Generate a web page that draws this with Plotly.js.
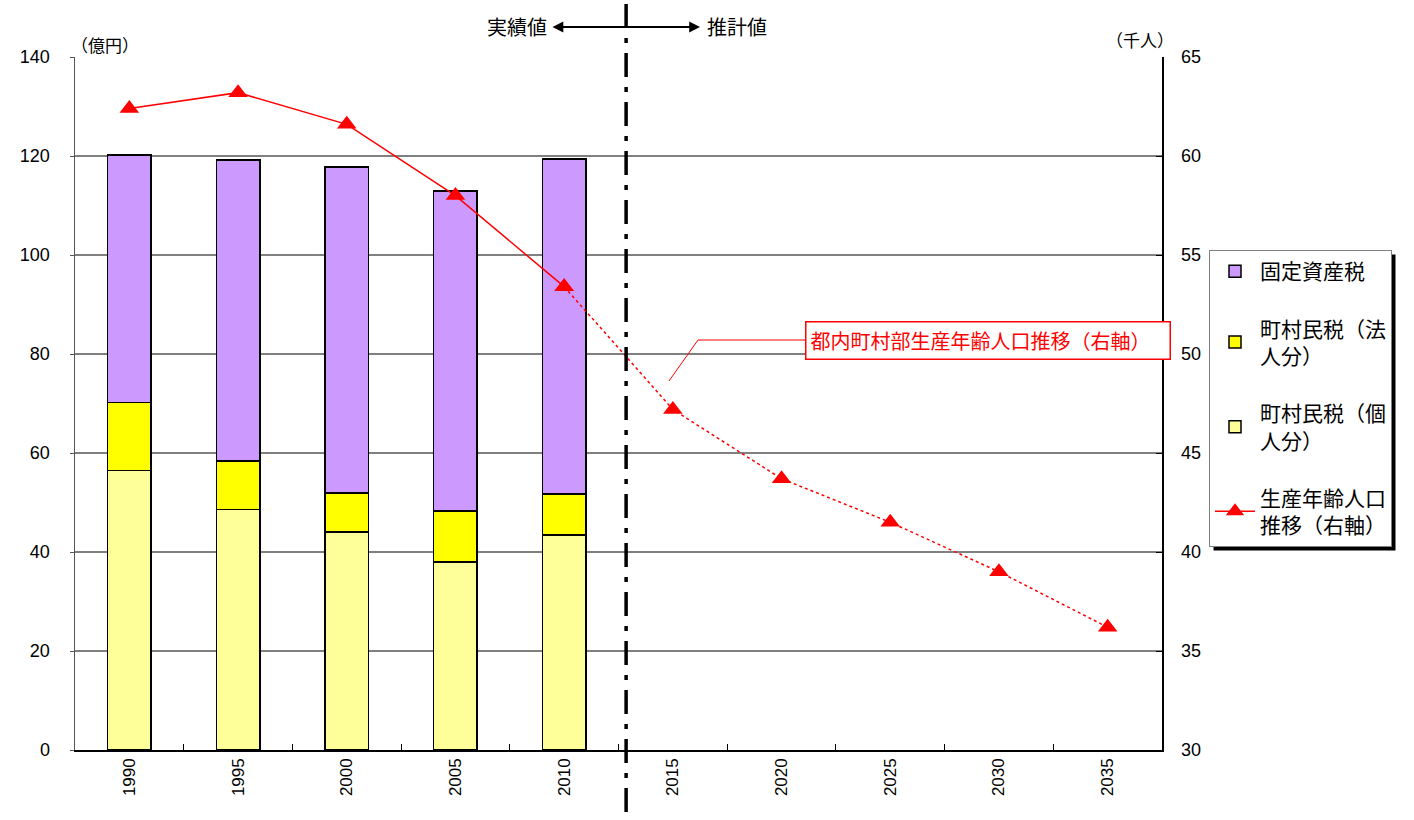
<!DOCTYPE html>
<html>
<head>
<meta charset="utf-8">
<script src="https://cdn.plot.ly/plotly-3.0.1.min.js"></script>
<style>
html,body{margin:0;padding:0;background:#fff;}
#chart{width:1414px;height:820px;}
</style>
</head>
<body>
<div id="chart"></div>
<script>
// ---- data ----
const years = ['1990','1995','2000','2005','2010','2015','2020','2025','2030','2035'];
const actualYears = ['1990','1995','2000','2005','2010'];
const kojin = [56.5, 48.6, 44.0, 38.0, 43.4];      // 町村民税（個人分）
const hojin = [13.7, 9.8, 7.9, 10.3, 8.3];         // 町村民税（法人分）
const kotei = [50.0, 60.8, 65.9, 64.6, 67.7];      // 固定資産税
const popYearsActual = ['1990','1995','2000','2005','2010'];
const popActual = [62.4, 63.2, 61.6, 58.0, 53.4];  // 生産年齢人口（実績）
const popYearsEst = ['2010','2015','2020','2025','2030','2035'];
const popEst = [53.4, 47.2, 43.7, 41.5, 39.0, 36.2]; // 生産年齢人口（推計）
const leftTicks = [0,20,40,60,80,100,120,140];
const rightTicks = [30,35,40,45,50,55,60,65];

// ---- layout helpers (pixel -> paper) ----
const W = 1414, H = 820;
const L = 75, R = 1162, T = 57, B = 750;
const px = x => (x - L) / (R - L);
const py = y => (B - y) / (B - T);

const FONT = '"Liberation Sans", Arial, "Noto Sans CJK JP", sans-serif';
const JFONT = '"Noto Sans CJK JP", "Liberation Sans", sans-serif';

const barLine = {color: '#000', width: 1.5};
const tri = {symbol:'triangle-up', size:17, color:'#FF0000'};
const traces = [
  {type:'bar', name:'町村民税（個<br>人分）', x: actualYears, y: kojin,
   marker:{color:'#FFFF99', line: barLine}, width:0.4, legendrank:3, legendgroup:'c', hoverinfo:'y'},
  {type:'bar', name:'町村民税（法<br>人分）', x: actualYears, y: hojin,
   marker:{color:'#FFFF00', line: barLine}, width:0.4, legendrank:2, legendgroup:'b', hoverinfo:'y'},
  {type:'bar', name:'固定資産税', x: actualYears, y: kotei,
   marker:{color:'#CC99FF', line: barLine}, width:0.4, legendrank:1, legendgroup:'a', hoverinfo:'y'},
  {type:'scatter', mode:'lines+markers', name:'生産年齢人口<br>推移（右軸）', x: popYearsActual, y: popActual,
   yaxis:'y2', line:{color:'#FF0000', width:1.5}, marker: tri, legendrank:4, legendgroup:'d'},
  {type:'scatter', mode:'lines+markers', name:'推計', x: popYearsEst, y: popEst,
   yaxis:'y2', line:{color:'#FF0000', width:1.5, dash:'dot'}, marker: tri, showlegend:false}
];

const layout = {
  width: W, height: H,
  margin: {l: L, r: W - R, t: T, b: H - B},
  paper_bgcolor: '#fff', plot_bgcolor: '#fff',
  barmode: 'stack',
  font: {family: JFONT, size: 16, color: '#000'},
  showlegend: true,
  legend: {
    x: px(1209), y: py(250), xanchor: 'left', yanchor: 'top',
    bgcolor: '#fff', bordercolor: '#808080', borderwidth: 1,
    font: {family: JFONT, size: 21, color: '#000'},
    traceorder: 'grouped', tracegroupgap: 27,
    itemwidth: 40
  },
  xaxis: {
    type: 'category', categoryorder: 'array', categoryarray: years,
    range: [-0.5, 9.5],
    tickangle: -90, tickfont: {family: FONT, size: 17},
    ticks: 'inside', ticklen: 6, tickcolor: '#000', tickson: 'boundaries',
    showline: true, linecolor: '#000', linewidth: 1.5,
    showgrid: false, zeroline: false, fixedrange: true
  },
  yaxis: {
    range: [0, 140], tickvals: leftTicks,
    tickfont: {family: FONT, size: 18},
    ticks: 'outside', ticklen: 4, tickcolor: '#555',
    showline: true, linecolor: '#555', linewidth: 1.5,
    showgrid: true, gridcolor: '#808080', gridwidth: 1.2,
    zeroline: false, fixedrange: true, ticklabelstandoff: 16
  },
  yaxis2: {
    overlaying: 'y', side: 'right',
    range: [30, 65], tickvals: rightTicks,
    tickfont: {family: FONT, size: 18},
    ticks: 'inside', ticklen: 6, tickcolor: '#000',
    showline: true, linecolor: '#000', linewidth: 1.5,
    showgrid: false, zeroline: false, fixedrange: true, ticklabelstandoff: 14
  },
  shapes: [
    // divider between actual and estimate
    {type:'line', xref:'x', yref:'paper', x0: 4.57, x1: 4.57, y0: py(812), y1: py(0),
     line:{color:'#000', width:3.5, dash:'24px,10px,5px,10px'}, layer:'above'},
    // callout leader
    {type:'path', xref:'paper', yref:'paper',
     path: `M ${px(806)} ${py(340)} L ${px(698)} ${py(340)} L ${px(669)} ${py(381)}`,
     line:{color:'#FF0000', width:1}}
  ],
  annotations: [
    {xref:'paper', yref:'paper', x: px(105), y: py(44), xanchor:'center', yanchor:'middle', text:'（億円）', showarrow:false,
     font:{family: JFONT, size:17}},
    {xref:'paper', yref:'paper', x: px(1140), y: py(40), xanchor:'center', yanchor:'middle', text:'（千人）', showarrow:false,
     font:{family: JFONT, size:17}},
    {xref:'paper', yref:'paper', x: px(549), y: py(27), xanchor:'right', yanchor:'middle', text:'実績値', showarrow:false,
     font:{family: JFONT, size:20}},
    {xref:'paper', yref:'paper', x: px(705), y: py(27), xanchor:'left', yanchor:'middle', text:'推計値', showarrow:false,
     font:{family: JFONT, size:20}},
    {xref:'paper', yref:'paper', x: px(700), y: py(27), ax: -149, ay: 0, axref:'pixel', ayref:'pixel',
     text:'', showarrow:true, arrowhead:2, arrowside:'end+start', arrowsize:1.2, arrowwidth:1.8, arrowcolor:'#000'},
    {xref:'paper', yref:'paper', x: px(988), y: py(340), xanchor:'center', yanchor:'middle',
     text:'都内町村部生産年齢人口推移（右軸）', showarrow:false,
     font:{family: JFONT, size:20, color:'#FF0000'}, bordercolor:'#FF0000', borderwidth:1.5, borderpad:4, bgcolor:'#fff',
     width: 355, height: 28, align:'left'}
  ]
};

Plotly.newPlot('chart', traces, layout, {displayModeBar:false, staticPlot:true}).then(gd => {
  // legend drop shadow, sized from the drawn legend box
  const bg = gd.querySelector('.legend .bg');
  if (!bg) return;
  const r = bg.getBoundingClientRect();
  const g = gd.getBoundingClientRect();
  const x0 = r.left - g.left + 4, x1 = r.right - g.left + 4;
  const y0 = r.top - g.top + 4, y1 = r.bottom - g.top + 4;
  const shapes = gd.layout.shapes.slice();
  shapes.unshift({type:'rect', xref:'paper', yref:'paper', x0: px(x0), x1: px(x1), y0: py(y1), y1: py(y0),
    fillcolor:'#000', line:{width:0}, layer:'above'});
  return Plotly.relayout(gd, {shapes: shapes});
});
</script>
</body>
</html>
